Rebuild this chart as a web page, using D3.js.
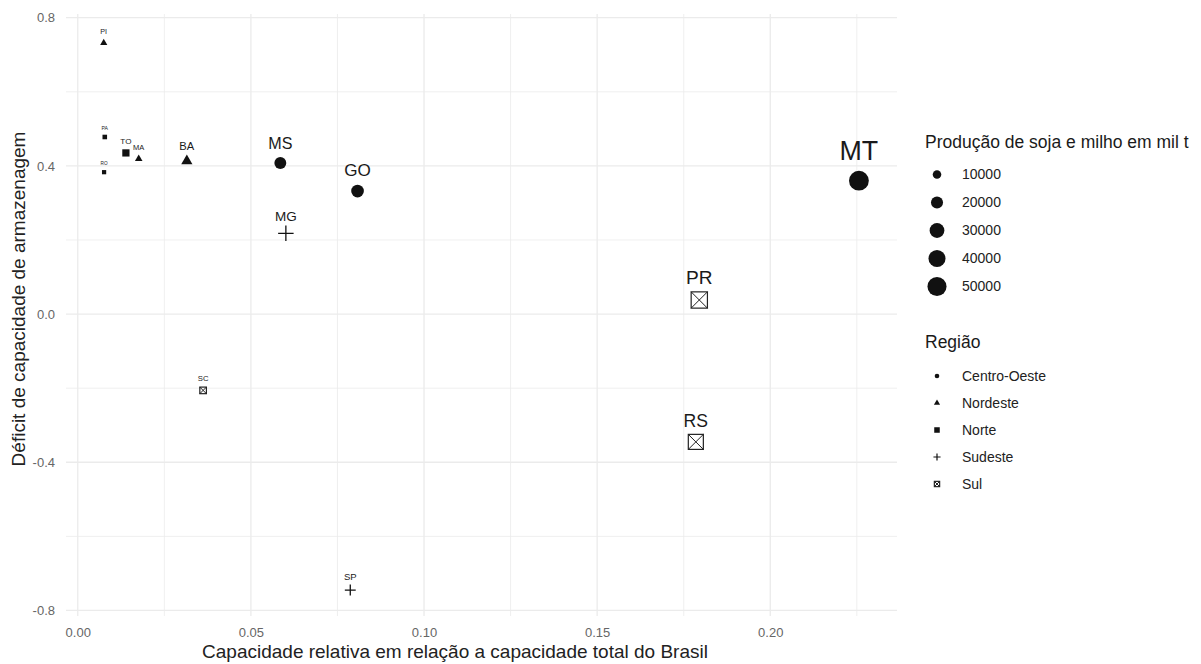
<!DOCTYPE html>
<html>
<head>
<meta charset="utf-8">
<script src="https://cdn.jsdelivr.net/npm/d3@7"></script>
<style>
  body { margin: 0; background: #fff; }
  svg { display: block; font-family: "Liberation Sans", Arial, sans-serif; }
</style>
</head>
<body>
<svg id="chart" width="1201" height="664"></svg>
<script>
// Storage capacity share vs. storage deficit per state, sized by soy + corn production
const states     = ["PI", "PA", "TO", "MA", "RO", "BA", "MS", "GO", "MG", "SC", "SP", "PR", "RS", "MT"];
const regions    = ["Nordeste", "Norte", "Norte", "Nordeste", "Norte", "Nordeste", "Centro-Oeste",
                    "Centro-Oeste", "Sudeste", "Sul", "Sudeste", "Sul", "Sul", "Centro-Oeste"];
const capacity   = [0.0075, 0.0078, 0.0139, 0.0176, 0.0076, 0.0315, 0.0585, 0.0808, 0.0601, 0.0362, 0.0787, 0.1795, 0.1785, 0.2256];
const deficit    = [0.732, 0.478, 0.435, 0.419, 0.383, 0.413, 0.408, 0.332, 0.218, -0.206, -0.745, 0.038, -0.345, 0.360];
const production = [3900, 2000, 5000, 4300, 1700, 9500, 19500, 22000, 13700, 4500, 6800, 27500, 23500, 54000];

const xTicks = [0, 0.05, 0.10, 0.15, 0.20];
const xMinor = [0.025, 0.075, 0.125, 0.175, 0.225];
const yTicks = [-0.8, -0.4, 0, 0.4, 0.8];
const yMinor = [-0.6, -0.2, 0.2, 0.6];
const sizeBreaks = [10000, 20000, 30000, 40000, 50000];
const regionNames = ["Centro-Oeste", "Nordeste", "Norte", "Sudeste", "Sul"];

const xTitle = "Capacidade relativa em relação a capacidade total do Brasil";
const yTitle = "Déficit de capacidade de armazenagem";
const sizeTitle = "Produção de soja e milho em mil t";
const shapeTitle = "Região";

const ink = "#111";
const gridColor = "#ebebeb";

const svg = d3.select("#chart");

const panel = { left: 66, right: 897, top: 14, bottom: 616 };
const x = d3.scaleLinear().domain([-0.0034, 0.2366]).range([panel.left, panel.right]);
const y = d3.scaleLinear().domain([-0.815, 0.81]).range([panel.bottom, panel.top]);
const size = d3.scaleSqrt().domain([0, 55000]).range([0, 10]);
const shapeOf = d3.scaleOrdinal().domain(regionNames)
  .range(["circle", "triangle", "square", "plus", "boxx"]);

// grid
const grid = svg.append("g");
grid.selectAll(".vminor").data(xMinor).join("line")
  .attr("x1", d => x(d)).attr("x2", d => x(d))
  .attr("y1", panel.top).attr("y2", panel.bottom)
  .attr("stroke", gridColor).attr("stroke-width", 0.8);
grid.selectAll(".hminor").data(yMinor).join("line")
  .attr("y1", d => y(d)).attr("y2", d => y(d))
  .attr("x1", panel.left).attr("x2", panel.right)
  .attr("stroke", gridColor).attr("stroke-width", 0.8);
grid.selectAll(".vmajor").data(xTicks).join("line")
  .attr("x1", d => x(d)).attr("x2", d => x(d))
  .attr("y1", panel.top).attr("y2", panel.bottom)
  .attr("stroke", gridColor).attr("stroke-width", 1.3);
grid.selectAll(".hmajor").data(yTicks).join("line")
  .attr("y1", d => y(d)).attr("y2", d => y(d))
  .attr("x1", panel.left).attr("x2", panel.right)
  .attr("stroke", gridColor).attr("stroke-width", 1.3);

// axes (labels only, like a minimal theme)
const xAxis = svg.append("g").attr("transform", `translate(0,${panel.bottom})`)
  .call(d3.axisBottom(x).tickValues(xTicks).tickFormat(d => d.toFixed(2)).tickSize(0).tickPadding(12));
const yAxis = svg.append("g").attr("transform", `translate(${panel.left},0)`)
  .call(d3.axisLeft(y).tickValues(yTicks).tickFormat(d => d.toFixed(1)).tickSize(0).tickPadding(11));
[xAxis, yAxis].forEach(a => {
  a.select(".domain").remove();
  a.selectAll("text").attr("fill", "#666").style("font-size", "13px")
    .style("font-family", "'Liberation Sans', Arial, sans-serif");
});

svg.append("text").attr("x", 455).attr("y", 658).attr("text-anchor", "middle")
  .attr("fill", "#222").style("font-size", "19px").text(xTitle);
svg.append("text").attr("transform", "translate(25,299) rotate(-90)").attr("text-anchor", "middle")
  .attr("fill", "#222").style("font-size", "19px").text(yTitle);

// point glyphs
function drawShape(g, shape, r, legendKey) {
  if (shape === "circle") {
    g.append("circle").attr("r", r).attr("fill", ink);
  } else if (shape === "triangle") {
    g.append("path")
      .attr("d", `M0,${-1.555 * r}L${1.347 * r},${0.778 * r}L${-1.347 * r},${0.778 * r}Z`)
      .attr("fill", ink);
  } else if (shape === "square") {
    const h = 1.2 * r;
    g.append("rect").attr("x", -h).attr("y", -h).attr("width", 2 * h).attr("height", 2 * h).attr("fill", ink);
  } else if (shape === "plus") {
    const h = 1.55 * r;
    g.append("path").attr("d", `M${-h},0H${h}M0,${-h}V${h}`)
      .attr("stroke", ink).attr("stroke-width", legendKey ? 1.2 : 1.3).attr("fill", "none");
  } else if (shape === "boxx") {
    const h = 1.15 * r;
    g.append("rect").attr("x", -h).attr("y", -h).attr("width", 2 * h).attr("height", 2 * h)
      .attr("fill", "none").attr("stroke", "#222").attr("stroke-width", 1.2);
    g.append("path").attr("d", `M${-h},${-h}L${h},${h}M${-h},${h}L${h},${-h}`)
      .attr("stroke", "#222").attr("stroke-width", 1.0).attr("fill", "none");
  }
}

const rows = states.map((s, i) => ({
  state: s, region: regions[i], cap: capacity[i], def: deficit[i], prod: production[i]
}));

const pts = svg.append("g").selectAll("g").data(rows).join("g")
  .attr("transform", d => `translate(${x(d.cap)},${y(d.def)})`);
pts.each(function (d) { drawShape(d3.select(this), shapeOf(d.region), size(d.prod), false); });

// state labels, scaled with production
svg.append("g").selectAll("text").data(rows).join("text")
  .attr("x", d => x(d.cap))
  .attr("y", d => { const f = 2.7 * size(d.prod); return y(d.def) - 0.64 * f - 4; })
  .attr("text-anchor", "middle")
  .attr("fill", "#1a1a1a")
  .style("font-size", d => (2.7 * size(d.prod)).toFixed(1) + "px")
  .text(d => d.state);

// legend: production size
const lg = svg.append("g");
lg.append("text").attr("x", 925).attr("y", 148).attr("fill", "#1a1a1a")
  .style("font-size", "17.5px").text(sizeTitle);
const sizeItems = lg.selectAll(".sz").data(sizeBreaks).join("g")
  .attr("transform", (d, i) => `translate(937,${174.5 + i * 28})`);
sizeItems.append("circle").attr("r", d => size(d)).attr("fill", ink);
sizeItems.append("text").attr("x", 25).attr("dy", "0.35em").attr("fill", "#222")
  .style("font-size", "14px").text(d => d);

// legend: region shape
lg.append("text").attr("x", 925).attr("y", 348).attr("fill", "#1a1a1a")
  .style("font-size", "17.5px").text(shapeTitle);
const shapeItems = lg.selectAll(".sh").data(regionNames).join("g")
  .attr("transform", (d, i) => `translate(937,${376 + i * 27})`);
shapeItems.each(function (d) { drawShape(d3.select(this), shapeOf(d), 2.3, true); });
shapeItems.append("text").attr("x", 25).attr("dy", "0.35em").attr("fill", "#222")
  .style("font-size", "14px").text(d => d);
</script>
</body>
</html>
